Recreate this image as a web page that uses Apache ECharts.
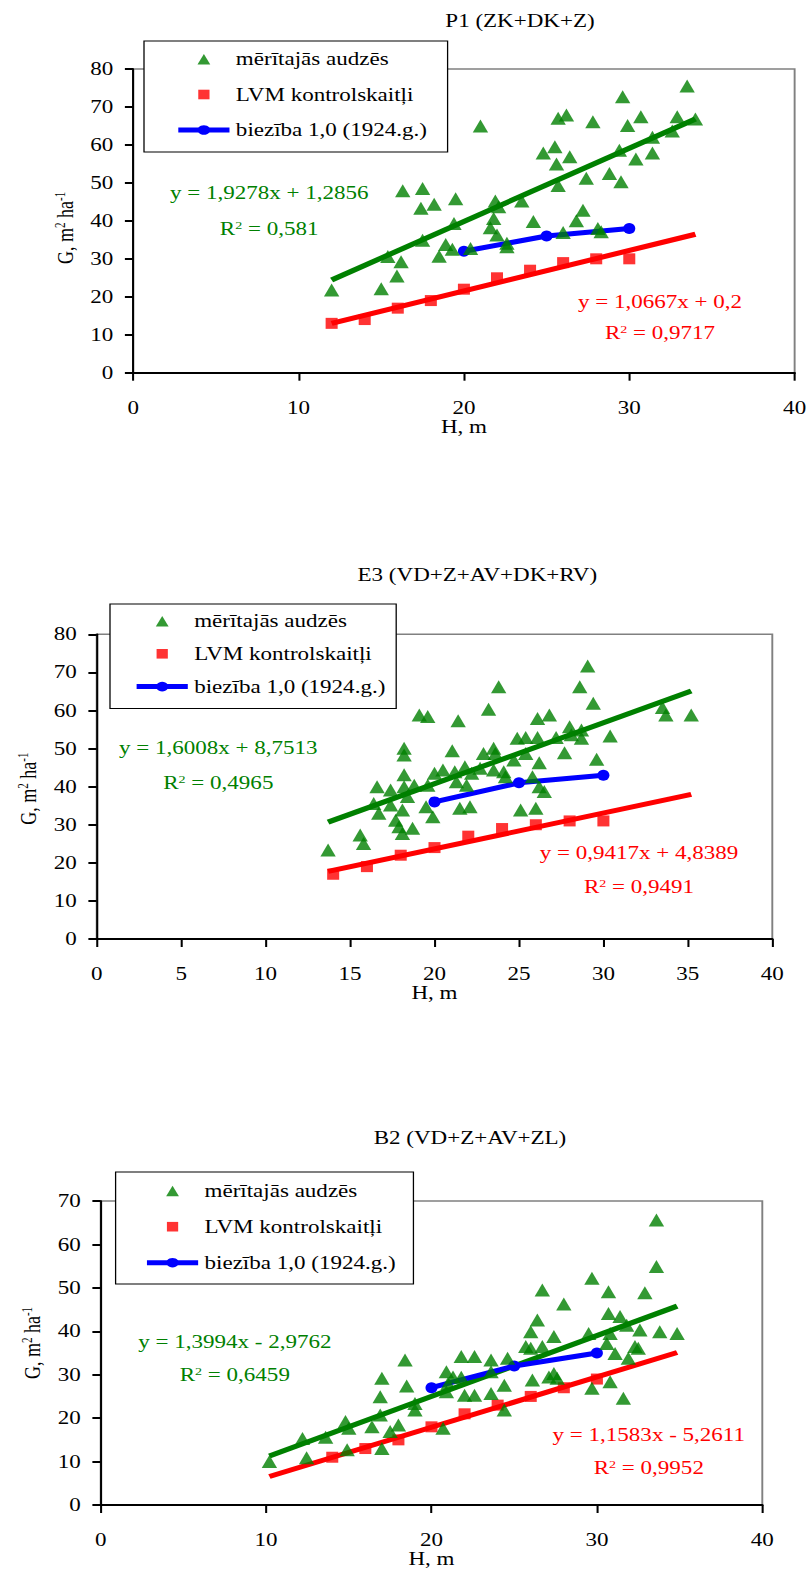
<!DOCTYPE html>
<html>
<head>
<meta charset="utf-8">
<script src="https://cdn.jsdelivr.net/npm/echarts@6/dist/echarts.min.js"></script>
<style>
html,body{margin:0;padding:0;background:#fff;overflow:hidden;}
#main{width:633px;height:1594px;transform:scaleX(1.2796);transform-origin:0 0;}
</style>
</head>
<body>
<div id="main"></div>
<script>
// ---------- DATA ----------
const seriesNames = ['mērītajās audzēs', 'LVM kontrolskaitļi', 'biezība 1,0 (1924.g.)'];
const chartTitles = ['P1 (ZK+DK+Z)', 'E3 (VD+Z+AV+DK+RV)', 'B2 (VD+Z+AV+ZL)'];
const xAxisName = 'H, m';
const yAxisName = 'G, m{sup|2} ha{sup|-1}';

// P1
const p1Meas = [[12.0,21.8],[15.0,22.1],[15.95,25.5],[16.2,29.2],[15.4,30.6],[16.3,47.9],[17.5,48.5],[17.4,43.3],[18.2,44.4],[17.5,34.9],[18.9,33.8],[18.5,30.7],[19.3,32.5],[19.5,45.8],[19.4,39.3],[20.4,32.7],[21.0,65.0],[21.9,45.2],[22.1,43.7],[21.8,40.6],[21.6,38.2],[22.0,36.3],[22.6,34.1],[22.6,33.2],[23.5,45.2],[24.2,39.8],[24.8,57.9],[25.5,59.5],[25.6,55.0],[25.7,67.0],[26.2,67.9],[26.4,56.9],[25.7,49.3],[26.0,36.9],[26.8,40.0],[27.2,42.8],[27.4,51.2],[27.8,66.1],[28.1,38.0],[28.3,37.1],[28.8,52.5],[29.5,50.3],[29.4,58.6],[29.6,72.7],[29.9,65.1],[30.4,56.3],[30.7,67.4],[31.4,62.0],[31.4,57.9],[32.6,63.7],[32.9,67.4],[33.5,75.5],[34.0,66.8]];
const p1Lvm = [[12,13],[14,14],[16,17],[18,19],[20,22],[22,25],[24,27],[26,29],[28,30],[30,30]];
const p1Old = [[20,32],[25,36],[30,38]];
const p1TrendG = [1.9278, 1.2856];
const p1TrendR = [1.0667, 0.2];
const p1TrendRange = [12, 34];
const p1EqG = ['y = 1,9278x + 1,2856', 'R{sup|2} = 0,581'];
const p1EqR = ['y = 1,0667x + 0,2', 'R{sup|2} = 0,9717'];

// E3
const e3Meas = [[29.07,71.7],[28.6,66.2],[23.8,66.2],[29.4,61.9],[23.2,60.3],[19.1,58.8],[19.6,58.4],[21.4,57.3],[26.1,57.9],[26.8,58.8],[33.5,60.8],[33.7,58.8],[35.2,58.8],[30.4,53.3],[18.2,50.1],[18.2,48.3],[21.05,49.4],[22.9,48.7],[23.5,50.1],[23.6,48.7],[24.9,52.7],[25.4,52.9],[26.1,52.9],[27.2,52.9],[28.0,55.7],[28.1,53.6],[28.7,54.9],[28.7,52.7],[27.7,48.9],[25.4,48.7],[24.7,47.0],[26.2,46.3],[29.6,47.2],[16.6,40.0],[17.4,39.1],[18.2,43.1],[18.2,40.0],[18.8,40.4],[18.4,37.4],[19.6,40.4],[20.0,43.5],[20.5,44.4],[21.2,43.9],[21.8,45.2],[22.2,43.5],[22.7,44.8],[21.3,41.3],[21.9,40.4],[23.5,44.4],[24.1,43.9],[24.2,42.6],[25.8,42.6],[26.2,40.0],[26.5,38.7],[16.4,35.6],[16.7,33.0],[17.4,35.2],[18.1,33.9],[17.7,31.2],[17.9,29.5],[18.1,27.7],[18.7,29.1],[19.5,34.7],[19.9,32.1],[21.5,34.3],[22.1,34.7],[25.1,33.9],[26.0,34.3],[13.7,23.4],[15.6,27.3],[15.8,25.1]];
const e3Lvm = [[14,17],[16,19],[18,22],[20,24],[22,27],[24,29],[26,30],[28,31],[30,31]];
const e3Old = [[20,36],[25,41],[30,43]];
const e3TrendG = [1.6008, 8.7513];
const e3TrendR = [0.9417, 4.8389];
const e3TrendRange = [13.7, 35.2];
const e3EqG = ['y = 1,6008x + 8,7513', 'R{sup|2} = 0,4965'];
const e3EqR = ['y = 0,9417x + 4,8389', 'R{sup|2} = 0,9491'];

// B2
const b2Meas = [[10.2,10.0],[12.2,15.3],[12.45,10.9],[13.6,15.6],[14.8,19.2],[15.0,17.7],[14.9,12.7],[16.4,18.0],[16.9,20.7],[16.9,24.9],[17.0,29.2],[17.0,13.0],[17.5,16.9],[18.0,18.4],[18.4,33.4],[18.5,27.4],[19.0,23.4],[19.0,21.9],[20.7,17.7],[20.9,30.7],[21.3,29.5],[21.8,34.2],[22.6,34.2],[20.9,26.1],[21.8,29.4],[22.0,25.3],[22.6,25.3],[23.6,33.4],[23.6,30.7],[23.6,25.7],[24.4,27.6],[24.4,21.9],[24.6,33.8],[25.7,36.5],[26.0,36.1],[26.1,28.8],[26.7,36.5],[26.0,39.9],[26.4,42.6],[26.7,49.5],[27.4,38.8],[27.1,29.5],[27.4,30.3],[27.6,29.2],[28.0,46.3],[29.5,39.5],[29.7,52.2],[29.7,26.9],[30.7,49.1],[30.7,44.1],[30.8,39.5],[30.6,37.2],[30.8,28.4],[31.1,34.9],[31.4,43.4],[31.8,41.4],[31.6,24.6],[31.9,33.8],[32.3,36.5],[32.5,36.1],[32.6,40.3],[32.9,48.9],[33.6,54.9],[33.6,65.6],[33.8,39.9],[34.85,39.5],[21.0,28.0]];
const b2Lvm = [[14,11],[16,13],[18,15],[20,18],[22,21],[24,23],[26,25],[28,27],[30,29]];
const b2Old = [[20,27],[25,32],[30,35]];
const b2TrendG = [1.3994, -2.9762];
const b2TrendR = [1.1583, -5.2611];
const b2TrendRange = [10.2, 34.85];
const b2EqG = ['y = 1,3994x - 2,9762', 'R{sup|2} = 0,6459'];
const b2EqR = ['y = 1,1583x - 5,2611', 'R{sup|2} = 0,9952'];

const xTicks = [[0, 40, 10], [0, 40, 5], [0, 40, 10]];
const yTicks = [[0, 80, 10], [0, 80, 10], [0, 70, 10]];

// ---------- LAYOUT / STYLE ----------
const K = 1.2796;             // horizontal stretch of the reference picture
const X = v => v / K;          // full-picture x  ->  internal x
const FONT = '"Liberation Serif","Times New Roman",serif';
const GREEN = '#008000', RED = '#ff0000', BLUE = '#0000ff';

const charts = [
  { meas: p1Meas, lvm: p1Lvm, old: p1Old, tg: p1TrendG, tr: p1TrendR, range: p1TrendRange, eqG: p1EqG, eqR: p1EqR,
    grid: { left: X(133.2), top: 69, width: X(661.8), height: 303.7 },
    legend: { left: X(144), top: 41, gap: 15.5, pad: [8, 16, 12, 24.3] },
    title: [X(520), 21], eqGpos: [X(269.2), 193, 229], eqRpos: [X(660), 302, 333],
    yNameGap: 44, yNamePad: [0, 14, 0, 0], xNameGap: 42 },
  { meas: e3Meas, lvm: e3Lvm, old: e3Old, tg: e3TrendG, tr: e3TrendR, range: e3TrendRange, eqG: e3EqG, eqR: e3EqR,
    grid: { left: X(96.7), top: 634.3, width: X(675.6), height: 304.7 },
    legend: { left: X(110), top: 604, gap: 12.8, pad: [7, 8.4, 12, 18.3] },
    title: [X(477.3), 575], eqGpos: [X(218.3), 748.3, 782.7], eqRpos: [X(639), 853.3, 886.7],
    yNameGap: 42, yNamePad: [0, 4, 0, 0], xNameGap: 42 },
  { meas: b2Meas, lvm: b2Lvm, old: b2Old, tg: b2TrendG, tr: b2TrendR, range: b2TrendRange, eqG: b2EqG, eqR: b2EqR,
    grid: { left: X(100.7), top: 1201, width: X(661.6), height: 304 },
    legend: { left: X(115.6), top: 1172, gap: 16, pad: [8.7, 13.8, 11.3, 22] },
    title: [X(470), 1138.3], eqGpos: [X(234.8), 1341.7, 1375], eqRpos: [X(648.8), 1435, 1468.3],
    yNameGap: 44, yNamePad: [0, 0, 0, 20], xNameGap: 42 }
];

const supRich = { sup: { fontSize: 11, fontFamily: FONT, verticalAlign: 'top', padding: [0, 0, 6, 0] } };

const option = {
  animation: false,
  backgroundColor: '#fff',
  grid: [], xAxis: [], yAxis: [], series: [], legend: [], graphic: []
};

const trendLine = (coef, range) => range.map(x => [x, coef[0] * x + coef[1]]);

charts.forEach((c, i) => {
  option.grid.push(Object.assign({ show: true, borderColor: '#808080', borderWidth: 1.5, backgroundColor: 'transparent' }, c.grid));
  option.xAxis.push({
    type: 'value', gridIndex: i, min: xTicks[i][0], max: xTicks[i][1], interval: xTicks[i][2],
    axisLine: { show: true, onZero: false, lineStyle: { color: '#000', width: 2 } },
    axisTick: { show: true, inside: false, length: 8, lineStyle: { color: '#000', width: 1.6 } },
    axisLabel: { margin: 26, fontSize: 18, fontFamily: FONT, color: '#000' },
    splitLine: { show: false },
    name: xAxisName, nameLocation: 'middle', nameGap: c.xNameGap,
    nameTextStyle: { fontSize: 18, fontFamily: FONT, color: '#000' }
  });
  option.yAxis.push({
    type: 'value', gridIndex: i, min: yTicks[i][0], max: yTicks[i][1], interval: yTicks[i][2],
    axisLine: { show: true, onZero: false, lineStyle: { color: '#000', width: 1.6 } },
    axisTick: { show: true, inside: false, length: 6.5, lineStyle: { color: '#000', width: 2 } },
    axisLabel: { margin: 15.6, fontSize: 18, fontFamily: FONT, color: '#000' },
    splitLine: { show: false },
    name: yAxisName, nameLocation: 'middle', nameGap: c.yNameGap,
    nameTextStyle: { fontSize: 18, fontFamily: FONT, color: '#000', padding: c.yNamePad, rich: supRich }
  });
  option.series.push(
    { type: 'line', name: 'trendG' + i, xAxisIndex: i, yAxisIndex: i, data: trendLine(c.tg, c.range),
      symbol: 'none', lineStyle: { color: GREEN, width: 5 }, z: 2, silent: true },
    { type: 'line', name: 'trendR' + i, xAxisIndex: i, yAxisIndex: i, data: trendLine(c.tr, c.range),
      symbol: 'none', lineStyle: { color: RED, width: 5 }, z: 2, silent: true },
    { type: 'line', name: seriesNames[2], xAxisIndex: i, yAxisIndex: i, data: c.old,
      symbol: 'circle', symbolSize: [9.4, 11], showSymbol: true,
      lineStyle: { color: BLUE, width: 5 }, itemStyle: { color: BLUE }, z: 3 },
    { type: 'scatter', name: seriesNames[1], xAxisIndex: i, yAxisIndex: i, data: c.lvm,
      symbol: 'rect', symbolSize: [9.4, 11], itemStyle: { color: RED }, z: 4 },
    { type: 'scatter', name: seriesNames[0], xAxisIndex: i, yAxisIndex: i, data: c.meas,
      symbol: 'triangle', symbolSize: [12, 13], itemStyle: { color: GREEN }, z: 5 }
  );
  option.legend.push({
    orient: 'vertical', left: c.legend.left, top: c.legend.top,
    itemWidth: 40, itemHeight: 12, itemGap: c.legend.gap, padding: c.legend.pad,
    borderColor: '#000', borderWidth: 1, backgroundColor: '#fff', selectedMode: false,
    textStyle: { fontSize: 18, fontFamily: FONT, color: '#000', lineHeight: 20 },
    lineStyle: { width: 5 },
    data: [
      { name: seriesNames[0], icon: 'path://M0,0M40,12M15,11.5L20,1L25,11.5Z' },
      { name: seriesNames[1], icon: 'path://M0,0M40,12M15.6,1.2h8.8v9.6h-8.8Z' },
      { name: seriesNames[2], lineStyle: { width: 5, color: BLUE } }
    ]
  });
  const txt = (x, y, text, color) => ({
    type: 'text', x: x, y: y, z: 10, silent: true,
    style: { text: text, fill: color, fontSize: 18, fontFamily: FONT, align: 'center', verticalAlign: 'middle', rich: supRich }
  });
  option.graphic.push(
    txt(c.title[0], c.title[1], chartTitles[i], '#000'),
    txt(c.eqGpos[0], c.eqGpos[1], c.eqG[0], GREEN),
    txt(c.eqGpos[0], c.eqGpos[2], c.eqG[1], GREEN),
    txt(c.eqRpos[0], c.eqRpos[1], c.eqR[0], RED),
    txt(c.eqRpos[0], c.eqRpos[2], c.eqR[1], RED)
  );
});

const chart = echarts.init(document.getElementById('main'), null, { renderer: 'svg' });
chart.setOption(option);
</script>
</body>
</html>
